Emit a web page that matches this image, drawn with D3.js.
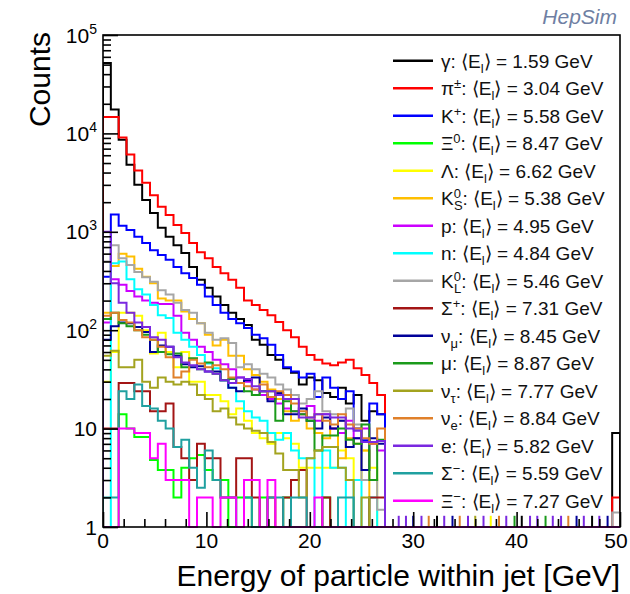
<!DOCTYPE html>
<html lang="en">
<head>
<meta charset="UTF-8">
<script src="https://cdn.jsdelivr.net/npm/d3@7"></script>
<title>HepSim particle energies</title>
<style>
  body { margin: 0; background: #fff; }
  text { font-family: "Liberation Sans", Arial, Helvetica, sans-serif; }
</style>
</head>
<body>
<svg id="chart" width="630" height="594"></svg>
<script>
// binning of the histograms (GeV)
var nBins = 66;
var eMax = 50;

// legend labels: [text, "n" | "sup" | "sub" | "subUnder"]
var labels = [
  [["γ", "n"]],
  [["π", "n"], ["±", "sup"]],
  [["K", "n"], ["+", "sup"]],
  [["Ξ", "n"], ["0", "sup"]],
  [["Λ", "n"]],
  [["K", "n"], ["0", "sup"], ["S", "subUnder"]],
  [["p", "n"]],
  [["n", "n"]],
  [["K", "n"], ["0", "sup"], ["L", "subUnder"]],
  [["Σ", "n"], ["+", "sup"]],
  [["ν", "n"], ["μ", "sub"]],
  [["μ", "n"]],
  [["ν", "n"], ["τ", "sub"]],
  [["ν", "n"], ["e", "sub"]],
  [["e", "n"]],
  [["Σ", "n"], ["−", "sup"]],
  [["Ξ", "n"], ["−", "sup"]]
];
var means = ["1.59", "3.04", "5.58", "8.47", "6.62", "5.38", "4.95", "4.84", "5.46",
             "7.31", "8.45", "8.87", "7.77", "8.84", "5.82", "5.59", "7.27"];
var colors = ["#000000", "#ff0000", "#0000ff", "#00ff00", "#ffff00", "#ffbf00", "#cc00ff",
              "#00ffff", "#a6a6a6", "#a31515", "#000099", "#1a9a1a", "#a3a31f", "#e0802a",
              "#7a28e0", "#20a0a0", "#ff00ff"];

// counts per bin (bins 0..35), empty bins beyond
var gamma  = [52000, 17500, 8600, 4800, 3000, 2100, 1550, 1100, 890, 730, 610, 440, 325, 270, 220, 180, 150, 130, 113, 80, 71, 56, 50, 41, 37, 28, 33, 31, 23, 21, 26, 18, 22, 12, 15, 14];
var pion   = [14700, 14700, 9100, 6100, 4200, 3150, 2350, 1800, 1480, 1170, 970, 770, 620, 540, 440, 380, 325, 270, 200, 180, 160, 142, 121, 100, 85, 68, 56, 50, 46, 44, 47, 50, 41, 35, 29, 22];
var kplus  = [350, 1500, 1150, 1040, 890, 770, 650, 580, 520, 440, 380, 340, 290, 220, 180, 150, 130, 118, 105, 90, 83, 71, 56, 42, 38, 33, 36, 21, 33, 26, 20, 24, 10, 7.6, 18, 14];
var xi0    = [0, 0, 14, 10, 8.2, 8.2, 4.8, 3.8, 3.8, 2, 4, 5, 5.4, 3.8, 3, 3, 1, 2, 2, 0, 2, 0, 0, 2, 0, 0, 0, 0, 2, 0, 0, 0, 0, 0, 0, 0];
var lambda = [30, 60, 150, 150, 140, 100, 58, 94, 60, 42, 60, 30, 30, 22, 22, 19, 14, 16, 12, 9, 8, 7, 9, 8, 7, 4, 4, 4, 4, 4, 6, 5, 3, 6, 4, 0];
var k0s    = [150, 450, 600, 560, 420, 350, 300, 210, 200, 200, 155, 130, 118, 90, 70, 80, 55, 55, 40, 35, 30, 25, 20, 15, 12, 14, 10, 9, 8, 10, 5, 8, 7, 6, 0, 0];
var proton = [120, 330, 290, 250, 220, 200, 190, 185, 185, 140, 94, 80, 68, 60, 50, 45, 40, 33, 30, 25, 22, 20, 18, 16, 15, 14, 17, 12, 14, 10, 9, 12, 8, 10, 7, 6];
var neutron = [1, 480, 500, 330, 260, 230, 180, 142, 133, 94, 80, 68, 56, 46, 41, 31, 26, 19, 15, 13, 12, 9, 7.7, 9, 6, 5, 5, 0, 6, 4, 4, 0, 3, 0, 2, 0];
var k0l    = [500, 730, 540, 460, 390, 345, 310, 255, 230, 190, 160, 150, 118, 94, 80, 83, 74, 42, 45, 40, 36, 33, 28, 25, 22, 18, 20, 24, 15, 14, 12, 16, 11, 3, 3, 1.5];
var sigmaP = [10, 10, 29, 29, 24, 24, 15, 15, 18, 6.5, 5, 3, 7, 5, 5, 2, 2, 5, 5, 2, 0, 2, 0, 2, 3, 3.8, 0, 0, 2, 0, 0, 0, 0, 0, 2, 2];
var numu   = [80, 110, 120, 118, 108, 96, 60, 70, 68, 55, 45, 42, 43, 38, 38, 31, 26, 24, 31, 33, 24, 19, 23, 14, 14, 16, 12, 10, 13, 10, 12, 6.5, 8, 3.8, 8, 7];
var muon   = [130, 150, 118, 110, 100, 90, 80, 60, 57, 58, 42, 52, 40, 47, 36, 31, 32, 29, 24, 22, 24, 24, 12, 19, 15, 14, 12, 6, 8.5, 8.5, 10, 7.7, 7, 11, 3, 7.7];
var nutau  = [55, 62, 42, 42, 50, 30, 26, 33, 30, 28, 30, 28, 22, 20, 15, 16, 13, 11, 10, 9.5, 9, 7.3, 5.6, 3.8, 3.8, 2, 5, 6, 6.5, 6.5, 4, 3, 0, 2, 0, 0];
var nue    = [140, 150, 127, 120, 100, 85, 80, 68, 53, 33, 38, 50, 46, 42, 44, 40, 33, 29, 27, 25, 28, 21, 24, 22, 18, 15, 13, 14, 12, 11, 14, 11, 10, 8, 7, 10];
var elec   = [1000, 300, 190, 150, 120, 108, 85, 80, 68, 53, 47, 44, 40, 38, 36, 31, 29, 33, 32, 27, 24, 24, 22, 20, 20, 13, 13, 14, 14, 13, 13, 10, 9.5, 7.3, 7.3, 7.5];
var sigmaM = [2, 2, 24, 20, 28, 17, 16, 12, 10, 6.5, 7.7, 4, 2.5, 6, 3, 2, 2, 1, 2, 1, 0, 2, 2, 0, 2, 2, 0, 0, 0, 0, 2, 2, 0, 0, 0, 0];
var xiM    = [0, 0, 10, 10, 9, 9, 5, 7, 3, 3, 3, 0, 2, 2, 0, 2, 2, 0, 3, 3, 0, 3, 0, 0, 0, 0, 0, 2, 0, 0, 0, 0, 0, 0, 0, 0];

var series = [gamma, pion, kplus, xi0, lambda, k0s, proton, neutron, k0l,
              sigmaP, numu, muon, nutau, nue, elec, sigmaM, xiM];

// last bin (49.2-50 GeV) contents
var overflowSeries = [0, 1, 8];
var overflowValues = [9, 2, 1.4];

// single entries in the high-energy tail
var tailE = [28.6, 29.3, 30.0, 30.8, 31.5, 32.3, 33.0, 33.8, 34.5, 35.3, 36.0, 36.8, 37.5, 38.3,
             39.0, 39.8, 40.5, 41.3, 42.0, 42.8, 43.5, 44.3, 45.0, 45.8, 46.5, 47.3, 48.0, 48.8];
var tailS = [14, 14, 10, 14, 13, 0, 14, 10, 13, 14, 12, 14, 4, 13,
             14, 11, 0, 14, 14, 11, 14, 14, 13, 10, 14, 0, 14, 10];

var xMajor = [0, 10, 20, 30, 40, 50];
var yDecades = [0, 1, 2, 3, 4, 5];

// ---------- layout
var svg = d3.select("#chart");
var frameL = 103, frameR = 620, frameT = 35, frameB = 527;
var bw = eMax / nBins;

var x = d3.scaleLinear().domain([0, eMax]).range([frameL, frameR]);
var y = d3.scaleLog().domain([1, 1e5]).range([frameB, frameT]).clamp(true);

svg.append("defs").append("clipPath").attr("id", "frame")
  .append("rect").attr("x", frameL).attr("y", frameT - 1)
  .attr("width", frameR - frameL).attr("height", frameB - frameT + 2);

// full bin contents
var full = series.map(function(s, k) {
  var b = d3.range(nBins).map(function(i) { return s[i] || 0; });
  overflowSeries.forEach(function(si, j) { if (si === k) b[nBins - 1] = overflowValues[j]; });
  return b;
});

function histPath(b) {
  var pts = [[x(0), y(1)]];
  b.forEach(function(v, i) {
    var yy = y(Math.max(v, 1));
    pts.push([x(i * bw), yy], [x((i + 1) * bw), yy]);
  });
  pts.push([x(eMax), y(1)]);
  return d3.line()(pts);
}

var plot = svg.append("g").attr("clip-path", "url(#frame)");

plot.selectAll("path.hist")
  .data(full)
  .enter().append("path")
    .attr("class", "hist")
    .attr("d", histPath)
    .attr("fill", "none")
    .attr("stroke", function(d, i) { return colors[i]; })
    .attr("stroke-width", 2);

plot.selectAll("line.tail")
  .data(tailE)
  .enter().append("line")
    .attr("x1", function(d) { return x(d); })
    .attr("x2", function(d) { return x(d); })
    .attr("y1", y(1))
    .attr("y2", y(1.3))
    .attr("stroke", function(d, i) { return colors[tailS[i]]; })
    .attr("stroke-width", 2);

// frame
svg.append("rect")
  .attr("x", frameL).attr("y", frameT)
  .attr("width", frameR - frameL).attr("height", frameB - frameT)
  .attr("fill", "none").attr("stroke", "#000").attr("stroke-width", 1.6);

// ticks (drawn inward like ROOT)
var xMinor = d3.range(2, 50, 2).filter(function(v) { return v % 10 !== 0; });
var yMinor = [];
yDecades.slice(0, -1).forEach(function(d) {
  for (var k = 2; k <= 9; k++) yMinor.push(k * Math.pow(10, d));
});
var yMajor = yDecades.map(function(d) { return Math.pow(10, d); });

function tickAxis(axis, vals, size, transform) {
  var g = svg.append("g").attr("transform", transform)
    .call(axis.tickValues(vals).tickSizeInner(-size).tickSizeOuter(0).tickFormat(""));
  g.select(".domain").remove();
  g.selectAll("line").attr("stroke", "#000").attr("stroke-width", 1.6);
}
tickAxis(d3.axisBottom(x), xMajor, 15, "translate(0," + frameB + ")");
tickAxis(d3.axisBottom(x), xMinor, 8, "translate(0," + frameB + ")");
tickAxis(d3.axisLeft(y), yMajor, 15, "translate(" + frameL + ",0)");
tickAxis(d3.axisLeft(y), yMinor, 8, "translate(" + frameL + ",0)");

// tick labels (last one kept inside the canvas)
svg.selectAll("text.xlab")
  .data(xMajor)
  .enter().append("text")
    .attr("x", function(d) { return Math.min(x(d), 616); })
    .attr("y", 548)
    .attr("text-anchor", "middle")
    .attr("font-size", 21)
    .text(function(d) { return d; });

var ylab = svg.selectAll("text.ylab")
  .data(yDecades)
  .enter().append("text")
    .attr("x", 97)
    .attr("y", function(d) { return y(Math.pow(10, d)) + 7.5; })
    .attr("text-anchor", "end")
    .attr("font-size", 21);
ylab.append("tspan").text(function(d) { return d === 0 ? "1" : "10"; });
ylab.filter(function(d) { return d > 1; })
  .append("tspan").attr("font-size", 14).attr("dy", -9).text(function(d) { return d; });

// axis titles
svg.append("text")
  .attr("x", frameR).attr("y", 586)
  .attr("text-anchor", "end")
  .attr("font-size", 30)
  .text("Energy of particle within jet [GeV]");

svg.append("text")
  .attr("transform", "translate(50,32) rotate(-90)")
  .attr("text-anchor", "end")
  .attr("font-size", 30)
  .text("Counts");

svg.append("text")
  .attr("x", 617).attr("y", 24)
  .attr("text-anchor", "end")
  .attr("font-size", 21)
  .attr("font-style", "italic")
  .attr("fill", "#6f7fa3")
  .text("HepSim");

// legend
var legY0 = 60.7, legStep = 27.5;
var leg = svg.selectAll("g.leg")
  .data(labels)
  .enter().append("g")
    .attr("transform", function(d, i) { return "translate(0," + (legY0 + i * legStep) + ")"; });

leg.append("line")
  .attr("x1", 393).attr("x2", 433)
  .attr("stroke", function(d, i) { return colors[i]; })
  .attr("stroke-width", 2.5);

leg.each(function(parts, i) {
  var t = d3.select(this).append("text")
    .attr("x", 441).attr("y", 7)
    .attr("font-size", 19)
    .attr("fill", "#111");
  var shift = 0;
  function add(str, mode, dx) {
    var target = mode === "sup" ? -7 : (mode === "sub" || mode === "subUnder") ? 5 : 0;
    var ts = t.append("tspan").attr("dy", target - shift).text(str);
    if (mode !== "n") ts.attr("font-size", 13);
    if (dx) ts.attr("dx", dx);
    shift = target;
  }
  parts.forEach(function(p) { add(p[0], p[1], p[1] === "subUnder" ? -7 : 0); });
  add(": ⟨E", "n");
  add("l", "sub");
  add("⟩ = " + means[i] + " GeV", "n");
});
</script>
</body>
</html>
